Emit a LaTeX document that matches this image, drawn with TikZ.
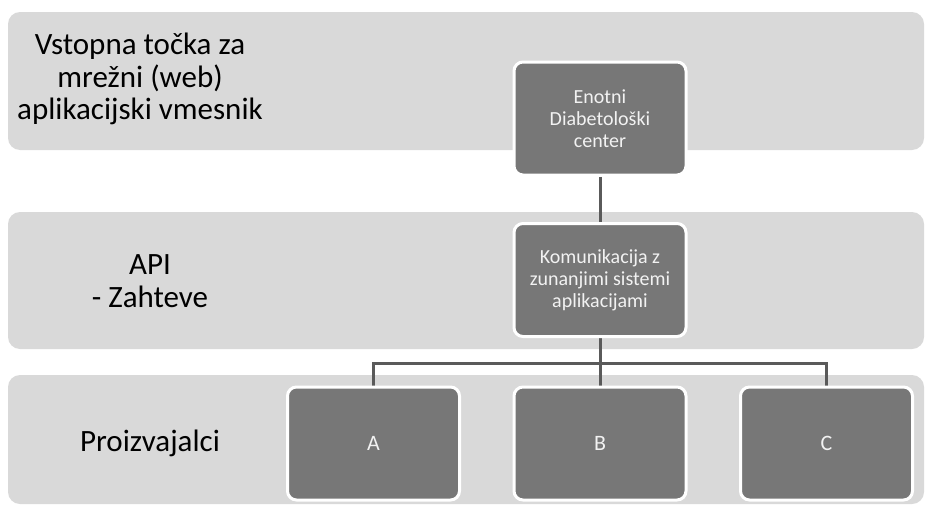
\documentclass[tikz,border=0pt]{standalone}
\usepackage{fontspec}
\setmainfont{Carlito}
\usepackage{xcolor}
\usepackage{tikz}
\usetikzlibrary{positioning, backgrounds}

\definecolor{bandgray}{HTML}{D9D9D9}
\definecolor{boxgray}{HTML}{777777}
\definecolor{linegray}{HTML}{5A5A5A}

\pgfdeclarelayer{bands}
\pgfsetlayers{bands,background,main}

\begin{document}
\begin{tikzpicture}[x=1pt, y=-1pt,
    band/.style={fill=bandgray, rounded corners=12pt},
    layer/.style={align=center, font=\fontsize{31}{32.5}\selectfont, text=black},
    unit/.style={rectangle, rounded corners=9pt, fill=boxgray, draw=white, line width=3pt,
                 minimum width=172pt, minimum height=113pt, align=center,
                 text=white!95!black, font=\fontsize{20}{22}\selectfont},
    letter/.style={unit, font=\fontsize{22}{24}\selectfont},
    link/.style={draw=linegray, line width=3pt}]
    \useasboundingbox (0,0) rectangle (926,506);

    % Background bands
    \begin{pgfonlayer}{bands}
    \fill[band] (8,12) rectangle (924,150);
    \fill[band] (8,212) rectangle (924,349);
    \fill[band] (8,375) rectangle (924,504);
    \end{pgfonlayer}

    % Band labels
    \node[layer] (entry) at (140,79) {Vstopna točka za\\mrežni (web)\\aplikacijski vmesnik};
    \node[layer] (api) at (150,281) {API\\- Zahteve};
    \node[layer] (makers) at (150,443) {Proizvajalci};

    % Boxes
    \node[unit] (center) at (600,118.5) {Enotni\\Diabetološki\\center};
    \node[unit] (comm) at (600,280) {Komunikacija z\\zunanjimi sistemi\\aplikacijami};
    \node[letter] (pa) at (373.5,443.5) {A};
    \node[letter] (pb) at (600,443.5) {B};
    \node[letter] (pc) at (826.5,443.5) {C};

    % Split point below the communication box
    \coordinate (split) at (600,363);

    % Connectors
    \begin{scope}[on background layer]
    \draw[link] (center) -- (comm);
    \draw[link] (comm) -- (split);
    \draw[link] (split) -| (pa);
    \draw[link] (split) -- (pb);
    \draw[link] (split) -| (pc);
    \end{scope}
\end{tikzpicture}
\end{document}
